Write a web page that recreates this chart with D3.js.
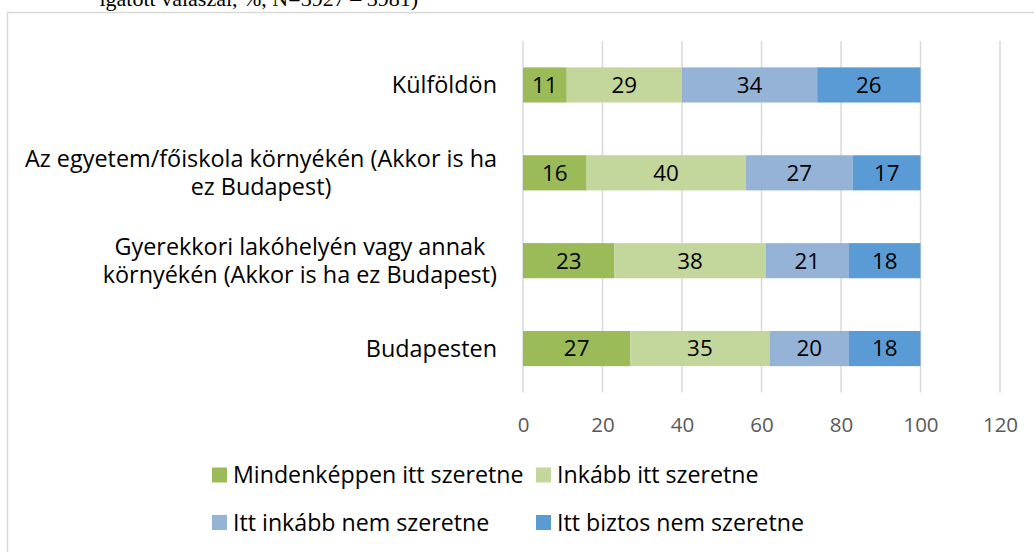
<!DOCTYPE html>
<html>
<head>
<meta charset="utf-8">
<script src="https://cdn.jsdelivr.net/npm/d3@7"></script>
<style>
  body { margin: 0; background: #fff; }
  svg text { font-family: "Open Sans", sans-serif; }
</style>
</head>
<body>
<div id="chart"></div>
<script>
const width = 1034;
const height = 552;

// categories, top to bottom (line breaks as in the original)
const categories = [
  'Külföldön',
  'Az egyetem/főiskola környékén (Akkor is ha\nez Budapest)',
  'Gyerekkori lakóhelyén vagy annak\nkörnyékén (Akkor is ha ez Budapest)',
  'Budapesten'
];
const seriesNames = [
  'Mindenképpen itt szeretne',
  'Inkább itt szeretne',
  'Itt inkább nem szeretne',
  'Itt biztos nem szeretne'
];
const mindenkeppen = [11, 16, 23, 27];
const inkabb = [29, 40, 38, 35];
const inkabbNem = [34, 27, 21, 20];
const biztosNem = [26, 17, 18, 18];
const xTicks = [0, 20, 40, 60, 80, 100, 120];
const colors = ['#9bbb59', '#c3d69b', '#95b3d7', '#5b9bd5'];

const svg = d3.select('#chart')
  .append('svg')
  .attr('width', width)
  .attr('height', height);

// cut-off caption line from the page above the chart
svg.append('text')
  .attr('x', 418)
  .attr('y', 6)
  .attr('text-anchor', 'end')
  .style('font-family', '"Liberation Serif", serif')
  .style('font-size', '22px')
  .attr('fill', '#000')
  .text('lgatott válaszai, %, N=3927 – 3981)');

// chart frame
svg.append('rect')
  .attr('x', 7.5)
  .attr('y', 12.5)
  .attr('width', 1100)
  .attr('height', 600)
  .attr('fill', 'none')
  .attr('stroke', '#d9d9d9')
  .attr('stroke-width', 1.5);

const rows = categories.map((c, i) => ({
  name: c,
  values: [mindenkeppen[i], inkabb[i], inkabbNem[i], biztosNem[i]]
}));

const x = d3.scaleLinear()
  .domain([0, 120])
  .range([523, 1000]);

const y = d3.scaleBand()
  .domain(categories)
  .range([41, 392.5])
  .paddingInner(0.6)
  .paddingOuter(0.3);

// gridlines
svg.append('g')
  .selectAll('line')
  .data(xTicks)
  .enter()
  .append('line')
  .attr('x1', d => x(d))
  .attr('x2', d => x(d))
  .attr('y1', 41)
  .attr('y2', 392.5)
  .attr('stroke', '#d9d9d9')
  .attr('stroke-width', 1.5);

// x axis labels
const xAxis = d3.axisBottom(x).tickValues(xTicks).tickSize(0).tickPadding(0);
const gx = svg.append('g')
  .attr('transform', 'translate(0,425)')
  .call(xAxis);
gx.select('.domain').remove();
gx.selectAll('text')
  .attr('dy', '0.35em')
  .style('font-family', '"Open Sans", sans-serif')
  .style('font-size', '20.5px')
  .attr('fill', '#595959');

// stacked bars
const stack = rows.map(r => {
  let acc = 0;
  return r.values.map((v, k) => {
    const seg = { cat: r.name, k: k, v: v, x0: acc, x1: acc + v };
    acc += v;
    return seg;
  });
}).flat();

svg.append('g')
  .selectAll('rect')
  .data(stack)
  .enter()
  .append('rect')
  .attr('x', d => x(d.x0))
  .attr('y', d => y(d.cat))
  .attr('width', d => x(d.x1) - x(d.x0))
  .attr('height', y.bandwidth())
  .attr('fill', d => colors[d.k]);

svg.append('g')
  .selectAll('text')
  .data(stack)
  .enter()
  .append('text')
  .attr('x', d => (x(d.x0) + x(d.x1)) / 2)
  .attr('y', d => y(d.cat) + y.bandwidth() / 2)
  .attr('dy', '0.35em')
  .attr('text-anchor', 'middle')
  .style('font-size', '22.4px')
  .attr('fill', '#000')
  .text(d => d.v);

// category labels: centred block, right edge at 497
const labels = svg.append('g');
categories.forEach(c => {
  const lines = c.split('\n');
  const g = labels.append('g');
  const lh = 28.5;
  const cy = y(c) + y.bandwidth() / 2;
  const texts = lines.map((ln, i) => g.append('text')
    .attr('y', cy + (i - (lines.length - 1) / 2) * lh)
    .attr('dy', '0.35em')
    .attr('text-anchor', 'middle')
    .style('font-size', '23.4px')
    .attr('fill', '#000')
    .text(ln));
  const maxW = d3.max(texts, t => t.node().getComputedTextLength());
  texts.forEach(t => t.attr('x', 497 - maxW / 2));
});

// legend
const legendPos = [[212, 475], [536, 475], [212, 522.5], [536, 522.5]];
const legend = svg.append('g');
seriesNames.forEach((s, i) => {
  const [lx, ly] = legendPos[i];
  legend.append('rect')
    .attr('x', lx)
    .attr('y', ly - 7.5)
    .attr('width', 15)
    .attr('height', 15)
    .attr('fill', colors[i]);
  legend.append('text')
    .attr('x', lx + 21)
    .attr('y', ly)
    .attr('dy', '0.35em')
    .style('font-size', '23.2px')
    .attr('fill', '#000')
    .text(s);
});
</script>
</body>
</html>
